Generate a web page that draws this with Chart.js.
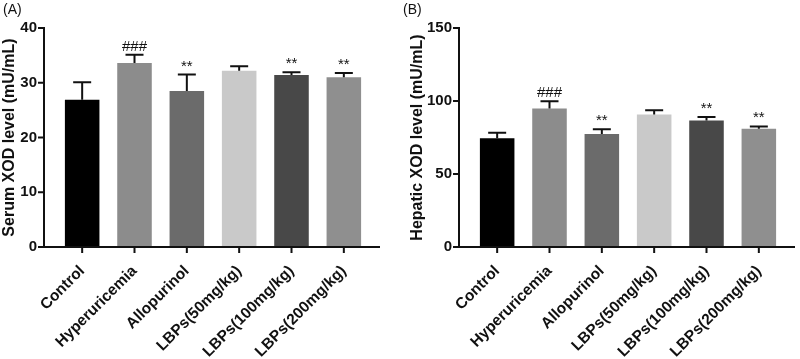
<!DOCTYPE html>
<html>
<head>
<meta charset="utf-8">
<script src="https://cdn.jsdelivr.net/npm/chart.js@4"></script>
<style>
  body { margin: 0; background: #fff; }
  .panel { position: absolute; top: 0; width: 400px; height: 359px; }
  .tag { position: absolute; top: 1px; font: 14px "Liberation Sans", Arial, sans-serif; color: #111; }
</style>
</head>
<body>
<div class="panel" style="left:0"><canvas id="chartA"></canvas></div>
<div class="panel" style="left:400px"><canvas id="chartB"></canvas></div>
<div class="tag" style="left:3px">(A)</div>
<div class="tag" style="left:403px">(B)</div>
<script>
const groups = ['Control', 'Hyperuricemia', 'Allopurinol', 'LBPs(50mg/kg)', 'LBPs(100mg/kg)', 'LBPs(200mg/kg)'];
const barColors = ['#000000', '#8c8c8c', '#6b6b6b', '#c9c9c9', '#484848', '#8f8f8f'];

const serumMean = [26.9, 33.6, 28.5, 32.2, 31.4, 31.0];
const serumErr = [3.2, 1.5, 3.0, 0.8, 0.5, 0.8];
const serumMarks = ['', '###', '**', '', '**', '**'];

const hepaticMean = [74.5, 94.8, 77.4, 90.7, 86.7, 81.0];
const hepaticErr = [3.8, 5.0, 3.2, 3.0, 2.4, 1.6];
const hepaticMarks = ['', '###', '**', '', '**', '**'];

const FONT = '"Liberation Sans", Arial, sans-serif';
const INK = '#111';

// error bars, significance marks and the detached GraphPad-style axes
const decorPlugin = {
  id: 'decor',
  afterDatasetsDraw(chart, args, opts) {
    const ctx = chart.ctx;
    const x = chart.scales.x, y = chart.scales.y;
    const area = chart.chartArea;
    ctx.save();
    ctx.strokeStyle = INK;
    ctx.fillStyle = INK;
    ctx.lineWidth = 2;

    opts.mean.forEach((m, i) => {
      const cx = x.getPixelForValue(i);
      const yTop = y.getPixelForValue(m + opts.err[i]);
      const yMean = y.getPixelForValue(m);
      ctx.beginPath();
      ctx.moveTo(cx, yMean);
      ctx.lineTo(cx, yTop);
      ctx.moveTo(cx - 9, yTop);
      ctx.lineTo(cx + 9, yTop);
      ctx.stroke();
      if (opts.marks[i]) {
        ctx.font = '15px ' + FONT;
        ctx.textAlign = 'center';
        ctx.textBaseline = 'alphabetic';
        ctx.fillText(opts.marks[i], cx, yTop - 4);
      }
    });

    // axes
    const ax = area.left - 12;
    const bottom = y.getPixelForValue(0);
    ctx.beginPath();
    ctx.moveTo(ax, area.top - 1);
    ctx.lineTo(ax, bottom);
    ctx.lineTo(area.right + 10, bottom);
    y.ticks.forEach(t => {
      const py = y.getPixelForValue(t.value);
      ctx.moveTo(ax - 6, py);
      ctx.lineTo(ax, py);
    });
    groups.forEach((g, i) => {
      const px = x.getPixelForValue(i);
      ctx.moveTo(px, bottom);
      ctx.lineTo(px, bottom + 6);
    });
    ctx.stroke();
    ctx.restore();
  }
};

function makeChart(id, mean, err, marks, yMax, yStep, yTitle, yWidth, rightPad, titlePad) {
  return new Chart(document.getElementById(id), {
    type: 'bar',
    data: {
      labels: groups,
      datasets: [{
        data: mean,
        backgroundColor: barColors,
        borderWidth: 0,
        barPercentage: 0.66,
        categoryPercentage: 1
      }]
    },
    options: {
      responsive: true,
      maintainAspectRatio: false,
      animation: false,
      layout: { padding: { top: 26, right: rightPad, left: 0, bottom: 0 } },
      plugins: {
        legend: { display: false },
        tooltip: { enabled: false },
        decor: { mean: mean, err: err, marks: marks }
      },
      scales: {
        x: {
          grid: { display: false, drawTicks: false },
          border: { display: false },
          ticks: {
            color: INK,
            font: { family: FONT, size: 15.5, weight: 'bold' },
            minRotation: 45,
            maxRotation: 45,
            padding: 15
          },
          afterFit(scale) { scale.height = 112; }
        },
        y: {
          min: 0,
          max: yMax,
          grid: { display: false, drawTicks: false },
          border: { display: false },
          ticks: {
            stepSize: yStep,
            color: INK,
            padding: 19,
            font: { family: FONT, size: 15, weight: 'bold' }
          },
          title: {
            display: true,
            text: yTitle,
            color: INK,
            padding: { top: titlePad, bottom: 0 },
            font: { family: FONT, size: 16, weight: 'bold' }
          },
          afterFit(scale) { scale.width = yWidth; }
        }
      }
    },
    plugins: [decorPlugin]
  });
}

makeChart('chartA', serumMean, serumErr, serumMarks, 40, 10, 'Serum XOD level (mU/mL)', 56, 30, 0);
makeChart('chartB', hepaticMean, hepaticErr, hepaticMarks, 150, 50, 'Hepatic XOD level (mU/mL)', 71, 15, 8);
</script>
</body>
</html>
